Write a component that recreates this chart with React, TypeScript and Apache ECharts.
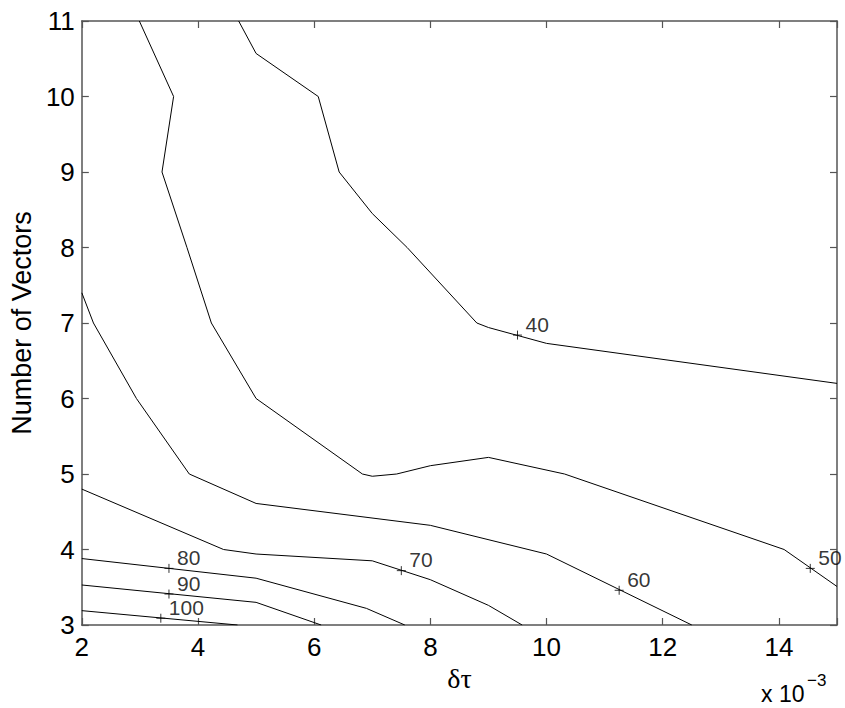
import { useEffect, useRef } from 'react';
import * as echarts from 'echarts';

// Axis ranges and tick labels
const xTickValues = [2, 4, 6, 8, 10, 12, 14];
const xRange = [2, 15];
const yTickValues = [3, 4, 5, 6, 7, 8, 9, 10, 11];
const yRange = [3, 11];

// Contour lines ([δτ ×1e3, number of vectors])
const contour40 = [[4.7, 11], [5.0, 10.57], [6.07, 10], [6.43, 9], [7.0, 8.45], [7.6, 8], [8.8, 7.0], [9.0, 6.94], [10.0, 6.73], [15, 6.2]];
const contour50 = [[2.99, 11], [3.58, 10], [3.38, 9], [3.81, 8], [4.23, 7], [5.0, 6], [6.83, 5.0], [7.0, 4.97], [7.42, 5.0], [8.0, 5.11], [9.0, 5.22], [10.31, 5.0], [14.09, 4.0], [15, 3.51]];
const contour60 = [[2, 7.4], [2.2, 7.0], [2.94, 6.0], [3.85, 5.0], [5.0, 4.61], [8.0, 4.32], [10.0, 3.94], [12.5, 3.0]];
const contour70 = [[2, 4.8], [4.44, 4.0], [5.0, 3.94], [7.0, 3.85], [8.0, 3.6], [9.0, 3.26], [9.58, 3.0]];
const contour80 = [[2, 3.88], [5.0, 3.62], [6.9, 3.22], [7.56, 3.0]];
const contour90 = [[2, 3.53], [5.0, 3.3], [6.12, 3.0]];
const contour100 = [[2, 3.19], [4.68, 3.0]];

const contours = [contour40, contour50, contour60, contour70, contour80, contour90, contour100];

// Contour labels and their "+" positions
const labelTexts = ['40', '50', '60', '70', '80', '90', '100'];
const labelPoints = [[9.5, 6.84], [14.54, 3.75], [11.25, 3.46], [7.5, 3.72], [3.5, 3.75], [3.5, 3.41], [3.36, 3.09]];

const FONT = 'Liberation Sans, Arial, Helvetica, sans-serif';
const AXIS_COLOR = '#555555';

export default function App() {
  const ref = useRef<HTMLDivElement>(null);

  useEffect(() => {
    if (!ref.current) return;
    const chart = echarts.init(ref.current, undefined, { renderer: 'svg' });

    const axisLine = { show: true, onZero: false, lineStyle: { color: AXIS_COLOR, width: 1.5 } };
    const axisTick = { show: true, inside: true, length: 7, lineStyle: { color: AXIS_COLOR, width: 1.2 } };

    const xBase = {
      type: 'value' as const,
      min: xRange[0],
      max: xRange[1],
      interval: 2,
      splitLine: { show: false },
      axisLine,
      axisTick,
    };
    const yBase = {
      type: 'value' as const,
      min: yRange[0],
      max: yRange[1],
      interval: 1,
      splitLine: { show: false },
      axisLine,
      axisTick,
    };

    const option: any = {
      animation: false,
      backgroundColor: '#ffffff',
      grid: { left: 70, top: 21, right: 8, bottom: 83, containLabel: false },
      xAxis: [
        {
          ...xBase,
          position: 'bottom',
          name: 'δτ',
          nameLocation: 'middle',
          nameGap: 33,
          nameTextStyle: { fontFamily: 'Liberation Serif, DejaVu Serif, serif', fontSize: 28, color: '#000' },
          axisLabel: {
            show: true,
            margin: 9,
            fontSize: 26,
            fontFamily: FONT,
            color: '#000',
            formatter: (v: number) => (xTickValues.includes(v) ? String(v) : ''),
          },
        },
        {
          ...xBase,
          position: 'top',
          axisLabel: { show: false },
        },
      ],
      yAxis: [
        {
          ...yBase,
          position: 'left',
          name: 'Number of Vectors',
          nameLocation: 'middle',
          nameGap: 39,
          nameTextStyle: { fontFamily: FONT, fontSize: 27, color: '#000' },
          axisLabel: {
            show: true,
            margin: 7,
            fontSize: 26,
            fontFamily: FONT,
            color: '#000',
            formatter: (v: number) => (yTickValues.includes(v) ? String(v) : ''),
          },
        },
        {
          ...yBase,
          position: 'right',
          axisLabel: { show: false },
        },
      ],
      series: [
        ...contours.map((data, i) => ({
          type: 'line',
          name: labelTexts[i],
          data,
          showSymbol: false,
          symbol: 'none',
          clip: true,
          lineStyle: { color: '#000', width: 1 },
          silent: true,
        })),
        {
          type: 'scatter',
          data: labelPoints.map((p, i) => ({ value: p, label: { formatter: labelTexts[i] } })),
          symbol: 'path://M5,0L5,10M0,5L10,5',
          symbolSize: 9,
          itemStyle: { color: 'none', borderColor: '#000', borderWidth: 1 },
          label: {
            show: true,
            position: 'right',
            distance: 1,
            offset: [0, -11],
            fontSize: 21,
            fontFamily: FONT,
            color: '#000',
            textBorderWidth: 0,
          },
          silent: true,
          clip: false,
        },
      ],
      graphic: [
        {
          type: 'text',
          x: 761,
          y: 694,
          style: {
            text: 'x 10',
            font: `23px ${FONT}`,
            fill: '#000',
            align: 'left',
            verticalAlign: 'middle',
            textAlign: 'left',
            textVerticalAlign: 'middle',
          },
        },
        {
          type: 'text',
          x: 807,
          y: 680,
          style: {
            text: '\u22123',
            font: `17px ${FONT}`,
            fill: '#000',
            align: 'left',
            verticalAlign: 'middle',
            textAlign: 'left',
            textVerticalAlign: 'middle',
          },
        },
      ],
    };

    chart.setOption(option);
    return () => chart.dispose();
  }, []);

  return (
    <div
      ref={ref}
      style={{ position: 'fixed', left: 0, top: 0, width: 845, height: 708, background: '#fff' }}
    />
  );
}
